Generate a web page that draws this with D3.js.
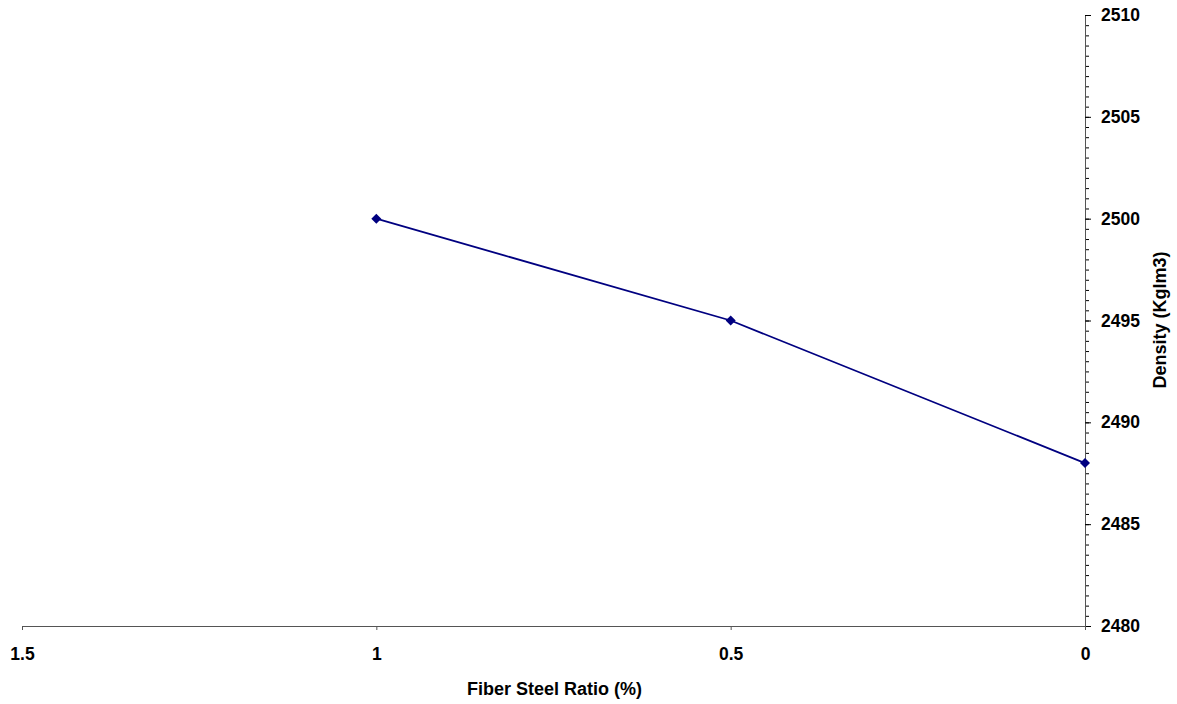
<!DOCTYPE html>
<html><head><meta charset="utf-8">
<script src="https://cdn.jsdelivr.net/npm/d3@7"></script>
<style>
body{margin:0;background:#fff;}
svg text{font-family:"Liberation Sans",Arial,sans-serif;font-weight:bold;fill:#000;}
</style></head>
<body><svg id="c" width="1177" height="704"></svg>
<script>
const fiberRatio = [1, 0.5, 0];
const density = [2500, 2495, 2488];
const xTicks = [1.5, 1, 0.5, 0];
const yTicks = [2480, 2485, 2490, 2495, 2500, 2505, 2510];

const svg = d3.select("#c");
const x = d3.scaleLinear().domain([1.5, 0]).range([22, 1085]);
const y = d3.scaleLinear().domain([2480, 2510]).range([626, 15]);

// minor y ticks
const minor = svg.append("g").attr("transform","translate(1085,0)")
  .call(d3.axisRight(y).tickValues(d3.range(2480, 2510.01, 0.5)).tickSize(4).tickFormat(""));
minor.select(".domain").remove();
minor.selectAll("line").attr("stroke","#000");

const ya = svg.append("g").attr("transform","translate(1085,0)")
  .call(d3.axisRight(y).tickValues(yTicks).tickSize(6).tickPadding(10).tickSizeOuter(0).tickFormat(d3.format("d")));
ya.select(".domain").attr("stroke","#555");
ya.selectAll("line").attr("stroke","#000");
ya.selectAll("text").style("font-size","17.5px").style("font-family","Liberation Sans, Arial, sans-serif").style("font-weight","bold");

const xa = svg.append("g").attr("transform","translate(0,626)")
  .call(d3.axisBottom(x).tickValues(xTicks).tickSize(4).tickPadding(18).tickSizeOuter(0).tickFormat(d => String(d)));
xa.select(".domain").attr("stroke","#555");
xa.selectAll("line").attr("stroke","#555");
xa.selectAll("text").style("font-size","17.5px").style("font-family","Liberation Sans, Arial, sans-serif").style("font-weight","bold");

const pts = fiberRatio.map((v,i)=>({x:v, y:density[i]}));
svg.append("path").datum(pts)
  .attr("fill","none").attr("stroke","#000080").attr("stroke-width",1.8)
  .attr("d", d3.line().x(d=>x(d.x)).y(d=>y(d.y)));

svg.selectAll(".m").data(pts).enter().append("path")
  .attr("transform", d=>`translate(${x(d.x)},${y(d.y)})`)
  .attr("d", d3.symbol(d3.symbolDiamond2, 64))
  .attr("fill","#000080");

svg.append("text").attr("x", 554.5).attr("y", 695).attr("text-anchor","middle")
  .style("font-size","18px").text("Fiber Steel Ratio (%)");
svg.append("text").attr("transform","translate(1166,320) rotate(-90)").attr("text-anchor","middle")
  .style("font-size","18px").text("Density (Kglm3)");
</script></body></html>
